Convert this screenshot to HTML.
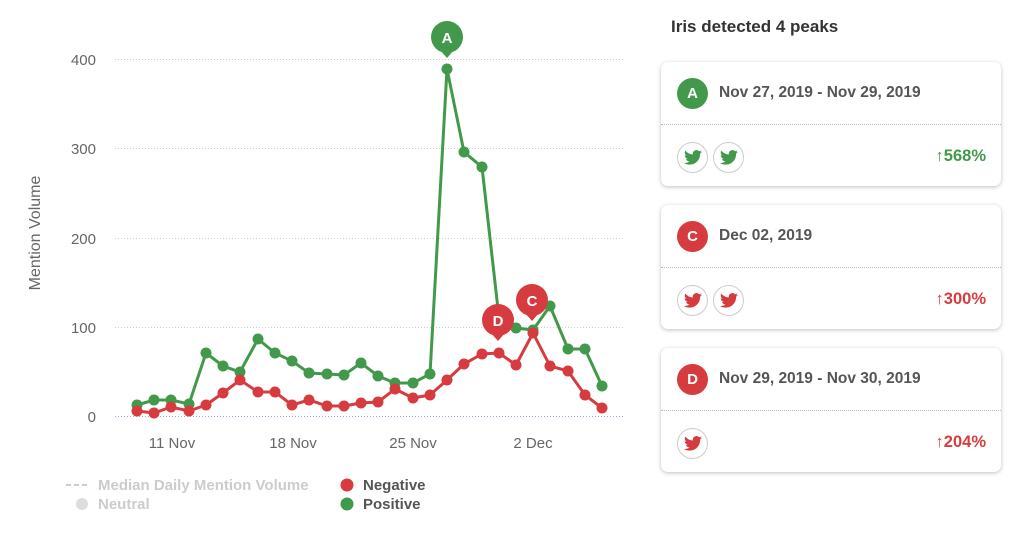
<!DOCTYPE html>
<html><head><meta charset="utf-8"><style>
body{margin:0;width:1024px;height:534px;background:#fff;font-family:"Liberation Sans",sans-serif;position:relative;overflow:hidden}
.title{position:absolute;left:671px;top:17px;font-size:17px;font-weight:bold;color:#333}
.card{position:absolute;left:661px;width:340px;height:124px;border-radius:7px;box-shadow:0 1px 4px rgba(0,0,0,.25);background:#fff}
.card .hd{height:62px;border-bottom:1px dotted #bbb;position:relative}
.badge{position:absolute;left:16px;top:16px;width:31px;height:31px;border-radius:50%;color:#fff;font-weight:bold;font-size:15px;text-align:center;line-height:31px}
.date{position:absolute;left:58px;top:22px;font-size:15.5px;font-weight:bold;color:#555}
.tw{position:absolute;top:80px;width:29px;height:29px;border:1px solid #ccc;border-radius:50%}
.tw svg{position:absolute;left:6px;top:7px}
.pct{position:absolute;right:15px;top:85px;font-size:16.5px;font-weight:bold}
</style></head><body>
<svg width="650" height="534" style="position:absolute;left:0;top:0">
<g stroke="#ccc" stroke-dasharray="1,2" stroke-width="1">
<line x1="115" y1="59.5" x2="625" y2="59.5"/><line x1="115" y1="148.5" x2="625" y2="148.5"/><line x1="115" y1="238.5" x2="625" y2="238.5"/><line x1="115" y1="327.5" x2="625" y2="327.5"/>
</g>
<line x1="115" y1="416.5" x2="625" y2="416.5" stroke="#99a8d8" stroke-dasharray="1,2"/>
<g font-size="15" fill="#666" text-anchor="end"><text x="96" y="65">400</text><text x="96" y="154">300</text><text x="96" y="244">200</text><text x="96" y="333">100</text><text x="96" y="422">0</text></g>
<text transform="translate(40,233) rotate(-90)" font-size="16" fill="#666" text-anchor="middle">Mention Volume</text>
<g font-size="15" fill="#666" text-anchor="middle"><text x="172" y="448">11 Nov</text><text x="293" y="448">18 Nov</text><text x="413" y="448">25 Nov</text><text x="533" y="448">2 Dec</text></g>
<polyline fill="none" stroke="#43994b" stroke-width="3" points="137,405 154,400 171,400 189,404 206,353 223,366 240,372 258,339 275,353 292,361 309,373 327,374 344,375 361,363 378,376 395,383 413,383 430,374 447,69 464,152 482,167 499,318 516,328 533,330 550,306 568,349 585,349 602,386"/>
<g fill="#43994b"><circle cx="137" cy="405" r="5.5"/><circle cx="154" cy="400" r="5.5"/><circle cx="171" cy="400" r="5.5"/><circle cx="189" cy="404" r="5.5"/><circle cx="206" cy="353" r="5.5"/><circle cx="223" cy="366" r="5.5"/><circle cx="240" cy="372" r="5.5"/><circle cx="258" cy="339" r="5.5"/><circle cx="275" cy="353" r="5.5"/><circle cx="292" cy="361" r="5.5"/><circle cx="309" cy="373" r="5.5"/><circle cx="327" cy="374" r="5.5"/><circle cx="344" cy="375" r="5.5"/><circle cx="361" cy="363" r="5.5"/><circle cx="378" cy="376" r="5.5"/><circle cx="395" cy="383" r="5.5"/><circle cx="413" cy="383" r="5.5"/><circle cx="430" cy="374" r="5.5"/><circle cx="447" cy="69" r="5.5"/><circle cx="464" cy="152" r="5.5"/><circle cx="482" cy="167" r="5.5"/><circle cx="499" cy="318" r="5.5"/><circle cx="516" cy="328" r="5.5"/><circle cx="533" cy="330" r="5.5"/><circle cx="550" cy="306" r="5.5"/><circle cx="568" cy="349" r="5.5"/><circle cx="585" cy="349" r="5.5"/><circle cx="602" cy="386" r="5.5"/></g>
<polyline fill="none" stroke="#d63c3f" stroke-width="3" points="137,411 154,413 171,407 189,411 206,405 223,393 240,380 258,392 275,392 292,405 309,400 327,406 344,406 361,403 378,402 395,389 413,398 430,395 447,380 464,364 482,354 499,353 516,365 533,333 550,366 568,371 585,395 602,408"/>
<g fill="#d63c3f"><circle cx="137" cy="411" r="5.5"/><circle cx="154" cy="413" r="5.5"/><circle cx="171" cy="407" r="5.5"/><circle cx="189" cy="411" r="5.5"/><circle cx="206" cy="405" r="5.5"/><circle cx="223" cy="393" r="5.5"/><circle cx="240" cy="380" r="5.5"/><circle cx="258" cy="392" r="5.5"/><circle cx="275" cy="392" r="5.5"/><circle cx="292" cy="405" r="5.5"/><circle cx="309" cy="400" r="5.5"/><circle cx="327" cy="406" r="5.5"/><circle cx="344" cy="406" r="5.5"/><circle cx="361" cy="403" r="5.5"/><circle cx="378" cy="402" r="5.5"/><circle cx="395" cy="389" r="5.5"/><circle cx="413" cy="398" r="5.5"/><circle cx="430" cy="395" r="5.5"/><circle cx="447" cy="380" r="5.5"/><circle cx="464" cy="364" r="5.5"/><circle cx="482" cy="354" r="5.5"/><circle cx="499" cy="353" r="5.5"/><circle cx="516" cy="365" r="5.5"/><circle cx="533" cy="333" r="5.5"/><circle cx="550" cy="366" r="5.5"/><circle cx="568" cy="371" r="5.5"/><circle cx="585" cy="395" r="5.5"/><circle cx="602" cy="408" r="5.5"/></g>
<g font-size="15" font-weight="bold" fill="#fff" text-anchor="middle">
<circle cx="447" cy="37" r="16" fill="#43994b"/><path d="M440,50 L447,58 L454,50Z" fill="#43994b"/><text x="447" y="43">A</text>
<circle cx="498" cy="320" r="16" fill="#d63c3f"/><path d="M491,333 L498,341 L505,333Z" fill="#d63c3f"/><text x="498" y="326">D</text>
<circle cx="532" cy="300" r="16" fill="#d63c3f"/><path d="M525,313 L532,321 L539,313Z" fill="#d63c3f"/><text x="532" y="306">C</text>
</g>
<line x1="66" y1="485" x2="88" y2="485" stroke="#ccc" stroke-width="2" stroke-dasharray="5,3"/>
<circle cx="82" cy="504" r="6" fill="#ddd"/>
<circle cx="347" cy="485" r="6.5" fill="#d63c3f"/><circle cx="347" cy="504" r="6.5" fill="#43994b"/>
<g font-size="15" font-weight="bold"><text x="98" y="490" fill="#ccc">Median Daily Mention Volume</text><text x="98" y="509" fill="#ccc">Neutral</text><text x="363" y="490" fill="#555">Negative</text><text x="363" y="509" fill="#555">Positive</text></g>
</svg>
<div class="title">Iris detected 4 peaks</div>

<div class="card" style="top:62px"><div class="hd"><div class="badge" style="background:#43994b">A</div><div class="date">Nov 27, 2019 - Nov 29, 2019</div></div>
<div class="tw" style="left:16px"><svg width="18" height="15" viewBox="0 0 24 20"><path fill="#43994b" d="M24 2.4a9.8 9.8 0 0 1-2.8.8A4.9 4.9 0 0 0 23.3.5a9.9 9.9 0 0 1-3.1 1.2A4.9 4.9 0 0 0 11.8 6 14 14 0 0 1 1.7.9a4.9 4.9 0 0 0 1.5 6.6A4.9 4.9 0 0 1 1 6.9a4.9 4.9 0 0 0 3.9 4.9 4.9 4.9 0 0 1-2.2.1 4.9 4.9 0 0 0 4.6 3.4A9.9 9.9 0 0 1 0 17.3 14 14 0 0 0 7.500 19.5c9.1 0 14-7.5 14-14v-.6A10 10 0 0 0 24 2.4z"/></svg></div>
<div class="tw" style="left:52px"><svg width="18" height="15" viewBox="0 0 24 20"><path fill="#43994b" d="M24 2.4a9.8 9.8 0 0 1-2.8.8A4.9 4.9 0 0 0 23.3.5a9.9 9.9 0 0 1-3.1 1.2A4.9 4.9 0 0 0 11.8 6 14 14 0 0 1 1.7.9a4.9 4.9 0 0 0 1.5 6.6A4.9 4.9 0 0 1 1 6.9a4.9 4.9 0 0 0 3.9 4.9 4.9 4.9 0 0 1-2.2.1 4.9 4.9 0 0 0 4.6 3.4A9.9 9.9 0 0 1 0 17.3 14 14 0 0 0 7.5 19.5c9.1 0 14-7.5 14-14v-.6A10 10 0 0 0 24 2.4z"/></svg></div>
<div class="pct" style="color:#43994b">↑568%</div></div>

<div class="card" style="top:205px"><div class="hd"><div class="badge" style="background:#d63c3f">C</div><div class="date">Dec 02, 2019</div></div>
<div class="tw" style="left:16px"><svg width="18" height="15" viewBox="0 0 24 20"><path fill="#d63c3f" d="M24 2.4a9.8 9.8 0 0 1-2.8.8A4.9 4.9 0 0 0 23.3.5a9.9 9.9 0 0 1-3.1 1.2A4.9 4.9 0 0 0 11.8 6 14 14 0 0 1 1.7.9a4.9 4.9 0 0 0 1.5 6.6A4.9 4.9 0 0 1 1 6.9a4.9 4.9 0 0 0 3.9 4.9 4.9 4.9 0 0 1-2.2.1 4.9 4.9 0 0 0 4.6 3.4A9.9 9.9 0 0 1 0 17.3 14 14 0 0 0 7.5 19.5c9.1 0 14-7.5 14-14v-.6A10 10 0 0 0 24 2.4z"/></svg></div>
<div class="tw" style="left:52px"><svg width="18" height="15" viewBox="0 0 24 20"><path fill="#d63c3f" d="M24 2.4a9.8 9.8 0 0 1-2.8.8A4.9 4.9 0 0 0 23.3.5a9.9 9.9 0 0 1-3.1 1.2A4.9 4.9 0 0 0 11.8 6 14 14 0 0 1 1.7.9a4.9 4.9 0 0 0 1.5 6.6A4.9 4.9 0 0 1 1 6.9a4.9 4.9 0 0 0 3.9 4.9 4.9 4.9 0 0 1-2.2.1 4.9 4.9 0 0 0 4.6 3.4A9.9 9.9 0 0 1 0 17.3 14 14 0 0 0 7.5 19.5c9.1 0 14-7.5 14-14v-.6A10 10 0 0 0 24 2.4z"/></svg></div>
<div class="pct" style="color:#d63c3f">↑300%</div></div>

<div class="card" style="top:348px"><div class="hd"><div class="badge" style="background:#d63c3f">D</div><div class="date">Nov 29, 2019 - Nov 30, 2019</div></div>
<div class="tw" style="left:16px"><svg width="18" height="15" viewBox="0 0 24 20"><path fill="#d63c3f" d="M24 2.4a9.8 9.8 0 0 1-2.8.8A4.9 4.9 0 0 0 23.3.5a9.9 9.9 0 0 1-3.1 1.2A4.9 4.9 0 0 0 11.8 6 14 14 0 0 1 1.7.9a4.9 4.9 0 0 0 1.5 6.6A4.9 4.9 0 0 1 1 6.9a4.9 4.9 0 0 0 3.9 4.9 4.9 4.9 0 0 1-2.2.1 4.9 4.9 0 0 0 4.6 3.4A9.9 9.9 0 0 1 0 17.3 14 14 0 0 0 7.5 19.5c9.1 0 14-7.5 14-14v-.6A10 10 0 0 0 24 2.4z"/></svg></div>
<div class="pct" style="color:#d63c3f">↑204%</div></div>
</body></html>
